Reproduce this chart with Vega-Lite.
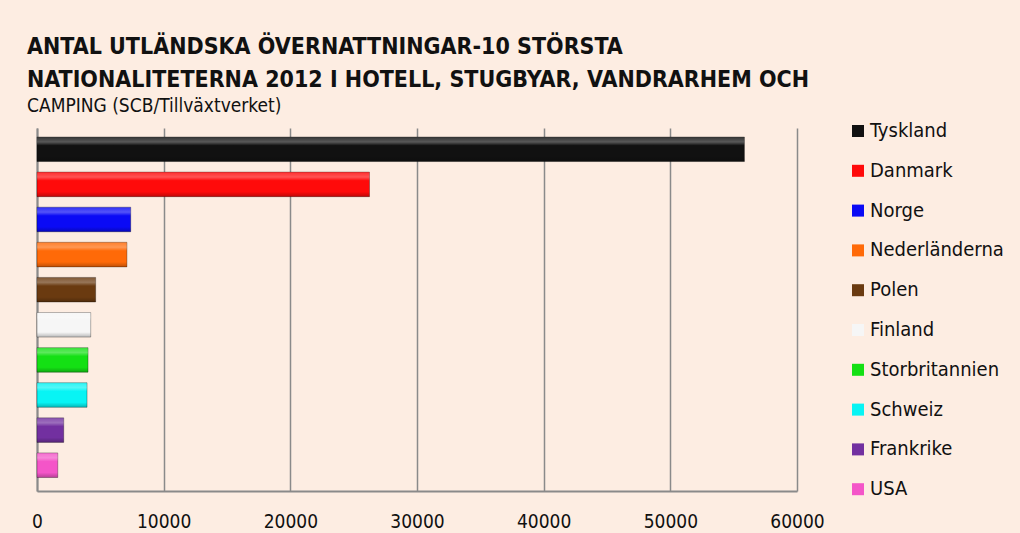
{
  "$schema": "https://vega.github.io/schema/vega-lite/v6.json",
  "width": 760,
  "height": 363,
  "autosize": {"type": "none"},
  "padding": {"left": 37, "top": 128, "right": 223, "bottom": 42},
  "background": "#FDEDE2",
  "title": {
    "text": ["ANTAL UTLÄNDSKA ÖVERNATTNINGAR-10 STÖRSTA", "NATIONALITETERNA 2012 I HOTELL, STUGBYAR, VANDRARHEM OCH"],
    "subtitle": "CAMPING (SCB/Tillväxtverket)",
    "anchor": "start",
    "frame": "group",
    "dx": -10,
    "font": "DejaVu Sans Condensed, sans-serif",
    "fontSize": 23,
    "fontWeight": "bold",
    "color": "#111111",
    "lineHeight": 33,
    "subtitleFont": "DejaVu Sans Condensed, sans-serif",
    "subtitleFontSize": 19,
    "subtitleColor": "#111111",
    "subtitlePadding": 5,
    "offset": 5
  },
  "config": {"view": {"stroke": null}},
  "data": {
    "values": [
      {"land": "Tyskland", "antal": 55850},
      {"land": "Danmark", "antal": 26250},
      {"land": "Norge", "antal": 7400},
      {"land": "Nederländerna", "antal": 7100},
      {"land": "Polen", "antal": 4630},
      {"land": "Finland", "antal": 4240},
      {"land": "Storbritannien", "antal": 4030},
      {"land": "Schweiz", "antal": 3950},
      {"land": "Frankrike", "antal": 2110},
      {"land": "USA", "antal": 1640}
    ]
  },
  "encoding": {
    "y": {
      "field": "land",
      "type": "nominal",
      "sort": null,
      "scale": {"paddingInner": 0.3, "paddingOuter": 0.32, "align": 0.4},
      "axis": {"title": null, "labels": false, "ticks": false, "grid": false, "domain": true, "domainColor": "#8A8A8A", "domainWidth": 2}
    },
    "x": {
      "field": "antal",
      "type": "quantitative",
      "scale": {"domain": [0, 60000], "nice": false},
      "axis": {
        "title": null,
        "values": [0, 10000, 20000, 30000, 40000, 50000, 60000],
        "format": "d",
        "grid": true,
        "gridColor": "#8A8A8A",
        "gridWidth": 1.5,
        "domainColor": "#8A8A8A",
        "domainWidth": 2,
        "ticks": false,
        "labelFont": "DejaVu Sans Condensed, sans-serif",
        "labelFontSize": 19,
        "labelColor": "#111111",
        "labelPadding": 21,
        "labelFlush": false
      }
    }
  },
  "layer": [
    {
      "mark": {"type": "bar", "stroke": "#000000", "strokeOpacity": 0.3, "strokeWidth": 1},
      "encoding": {
        "color": {
          "field": "land",
          "type": "nominal",
          "sort": null,
          "scale": {
            "domain": ["Tyskland", "Danmark", "Norge", "Nederländerna", "Polen", "Finland", "Storbritannien", "Schweiz", "Frankrike", "USA"],
            "range": ["#111111", "#FF0A0A", "#0A0AF5", "#FF6A08", "#6A3A10", "#F6F6F6", "#14E014", "#08F4F4", "#7230A0", "#F455C8"]
          },
          "legend": {
            "title": null,
            "orient": "none",
            "legendX": 811,
            "legendY": -7,
            "symbolType": "square",
            "symbolSize": 144,
            "symbolStrokeWidth": 0,
            "labelFont": "DejaVu Sans Condensed, sans-serif",
            "labelFontSize": 20,
            "labelColor": "#111111",
            "labelOffset": 2,
            "rowPadding": 19.8,
            "padding": 0
          }
        }
      }
    },
    {
      "mark": {
        "type": "bar",
        "color": {
          "gradient": "linear",
          "x1": 0, "y1": 0, "x2": 0, "y2": 1,
          "stops": [
            {"offset": 0, "color": "rgba(255,255,255,0.15)"},
            {"offset": 0.2, "color": "rgba(255,255,255,0.3)"},
            {"offset": 0.35, "color": "rgba(255,255,255,0)"},
            {"offset": 0.8, "color": "rgba(0,0,0,0)"},
            {"offset": 1, "color": "rgba(0,0,0,0.25)"}
          ]
        }
      }
    }
  ]
}
